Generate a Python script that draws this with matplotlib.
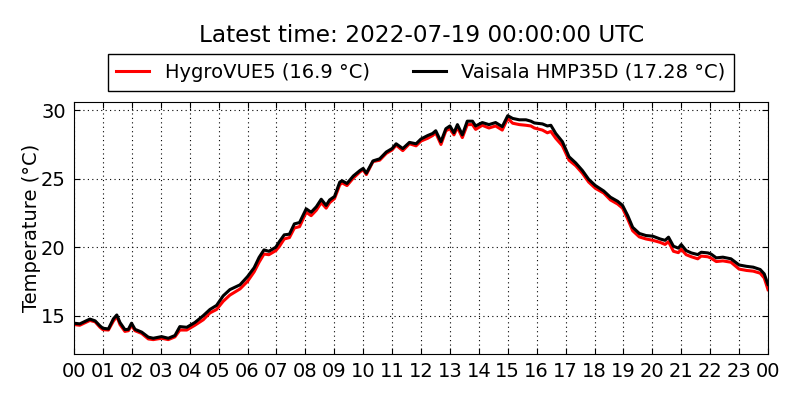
import pandas as pd
import matplotlib
matplotlib.use("Agg")
import matplotlib.pyplot as plt
import matplotlib.dates as mdates

# hours after 2022-07-18 00:00 UTC
hours = [0.0, 0.2, 0.4, 0.55, 0.73, 0.9, 1.0, 1.19, 1.36, 1.48, 1.59, 1.76, 1.88, 1.99,
         2.11, 2.34, 2.57, 2.74, 3.03, 3.26, 3.49, 3.66, 3.9, 4.18, 4.47, 4.7, 4.93,
         5.16, 5.39, 5.74, 6.0, 6.23, 6.4, 6.57, 6.74, 6.98, 7.1, 7.27, 7.45, 7.62,
         7.8, 8.03, 8.2, 8.38, 8.55, 8.72, 8.84, 9.01, 9.19, 9.27, 9.44, 9.66, 9.89,
         10.0, 10.11, 10.34, 10.57, 10.8, 11.0, 11.14, 11.37, 11.6, 11.83, 12.0,
         12.23, 12.4, 12.51, 12.69, 12.86, 13.0, 13.14, 13.26, 13.43, 13.6, 13.78,
         13.89, 14.12, 14.35, 14.58, 14.81, 15.0, 15.17, 15.4, 15.63, 15.8, 15.92,
         16.2, 16.37, 16.49, 16.66, 16.89, 17.12, 17.35, 17.58, 17.8, 18.03, 18.32,
         18.55, 18.8, 18.97, 19.15, 19.32, 19.55, 19.78, 20.02, 20.27, 20.44, 20.56,
         20.73, 20.9, 21.0, 21.17, 21.35, 21.57, 21.69, 21.92, 22.03, 22.21, 22.44,
         22.72, 23.0, 23.26, 23.49, 23.73, 23.87, 23.97, 24.0]

vaisala = [14.45, 14.4, 14.6, 14.75, 14.62, 14.25, 14.08, 14.03, 14.76, 15.05, 14.5, 13.98,
           14.0, 14.45, 14.0, 13.8, 13.43, 13.35, 13.47, 13.35, 13.55, 14.2, 14.15, 14.5,
           15.0, 15.45, 15.75, 16.45, 16.9, 17.25, 17.85, 18.5, 19.25, 19.8, 19.7, 20.0,
           20.4, 20.9, 20.95, 21.7, 21.8, 22.8, 22.55, 22.95, 23.5, 23.05, 23.45, 23.7,
           24.75, 24.85, 24.65, 25.2, 25.6, 25.75, 25.4, 26.3, 26.45, 26.95, 27.2, 27.55,
           27.2, 27.65, 27.55, 27.9, 28.15, 28.3, 28.5, 27.7, 28.65, 28.85, 28.35, 28.95,
           28.2, 29.2, 29.2, 28.85, 29.1, 28.95, 29.1, 28.8, 29.6, 29.4, 29.3, 29.3, 29.2,
           29.07, 29.0, 28.85, 28.9, 28.3, 27.7, 26.6, 26.15, 25.6, 24.95, 24.5, 24.1,
           23.65, 23.35, 23.05, 22.3, 21.45, 21.0, 20.85, 20.8, 20.6, 20.5, 20.73, 20.07,
           19.93, 20.19, 19.75, 19.58, 19.46, 19.63, 19.58, 19.5, 19.22, 19.27, 19.15,
           18.7, 18.6, 18.54, 18.37, 18.05, 17.45, 17.28]

hygrovue = [14.35, 14.3, 14.5, 14.65, 14.55, 14.15, 13.98, 13.95, 14.6, 14.95, 14.35, 13.85,
            13.9, 14.3, 13.9, 13.7, 13.3, 13.25, 13.35, 13.25, 13.45, 13.95, 13.95, 14.3,
            14.7, 15.2, 15.45, 16.05, 16.5, 16.95, 17.5, 18.2, 18.9, 19.5, 19.45, 19.75,
            20.05, 20.6, 20.7, 21.4, 21.5, 22.55, 22.3, 22.7, 23.25, 22.85, 23.25, 23.55,
            24.55, 24.7, 24.5, 25.05, 25.5, 25.65, 25.3, 26.25, 26.35, 26.85, 27.1, 27.45,
            27.05, 27.55, 27.4, 27.75, 27.95, 28.15, 28.35, 27.5, 28.5, 28.65, 28.2, 28.75,
            28.0, 28.95, 28.95, 28.6, 28.9, 28.7, 28.85, 28.55, 29.4, 29.05, 28.95, 28.9,
            28.85, 28.7, 28.55, 28.35, 28.45, 27.95, 27.4, 26.35, 25.95, 25.4, 24.75, 24.3,
            23.95, 23.45, 23.15, 22.85, 22.05, 21.2, 20.75, 20.6, 20.5, 20.35, 20.2, 20.4,
            19.7, 19.6, 19.85, 19.45, 19.3, 19.15, 19.35, 19.3, 19.2, 18.95, 19.0, 18.9,
            18.4, 18.3, 18.25, 18.1, 17.75, 17.1, 16.9]

start = pd.Timestamp("2022-07-18 00:00:00")
times = start + pd.to_timedelta(hours, unit="h")

plt.rcParams['font.family'] = ['DejaVu Sans']

fig = plt.figure(figsize=(8, 4), dpi=100)
ax = fig.add_axes([0.0925, 0.115, 0.8675, 0.63])

ax.plot(times, hygrovue, color='red', linewidth=2.2,
        label='HygroVUE5 (%s °C)' % hygrovue[-1])
ax.plot(times, vaisala, color='black', linewidth=2.2,
        label='Vaisala HMP35D (%s °C)' % vaisala[-1])

ax.set_xlim(start, start + pd.Timedelta(hours=24))
ax.set_ylim(12.2, 30.6)
ax.set_yticks([15, 20, 25, 30])
ax.xaxis.set_major_locator(mdates.HourLocator(interval=1))
ax.xaxis.set_major_formatter(mdates.DateFormatter('%H'))

ax.grid(True, color='black', linestyle=(0, (1, 3)), linewidth=0.8)
ax.tick_params(direction='in', top=True, right=True, labelsize=14, length=4, pad=6)
ax.set_ylabel('Temperature (°C)', fontsize=14, labelpad=0)

leg = ax.legend(loc='lower center', bbox_to_anchor=(0.5, 1.045), ncol=2,
                fontsize=14, fancybox=False, framealpha=1, handlelength=1.7,
                borderpad=0.45, borderaxespad=0, columnspacing=2.2)
leg.get_frame().set_edgecolor('black')

fig.text(0.527, 0.912, 'Latest time: 2022-07-19 00:00:00 UTC', ha='center',
         va='center', fontsize=16.7)

fig.savefig('out.png', dpi=100)
